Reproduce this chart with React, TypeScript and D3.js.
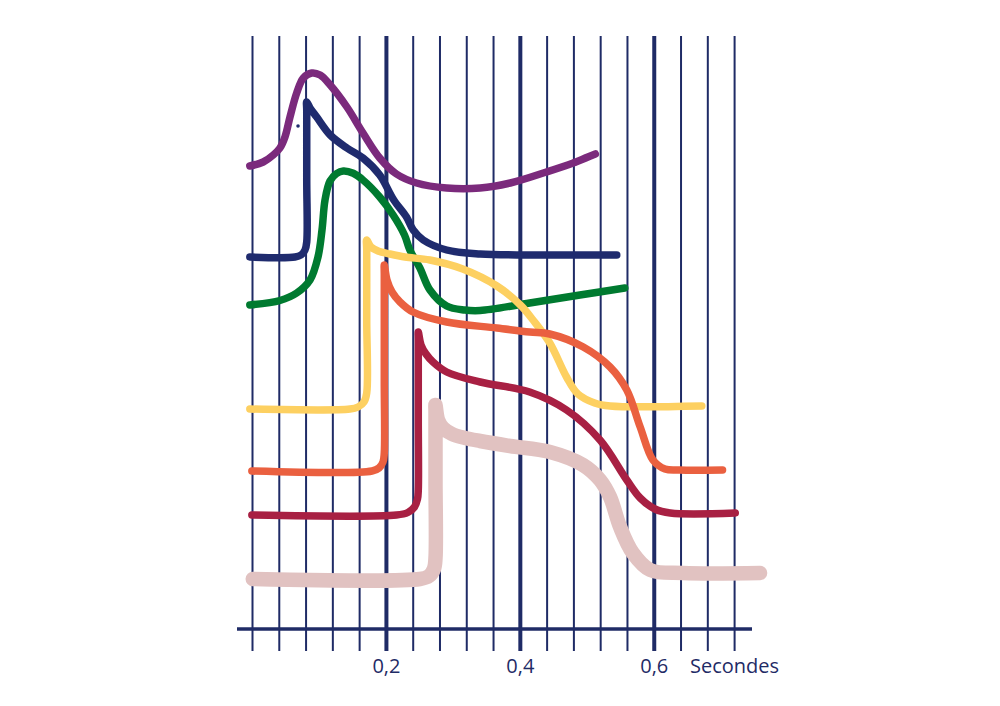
import React from "react";
import * as d3 from "d3";

type P = [number, number];

// time in seconds, potential in arbitrary units
const purple: P[] = [
  [-0.004, 463], [0.016, 467], [0.031, 474], [0.041, 481], [0.0485, 492], [0.056, 512],
  [0.066, 536], [0.0759, 551], [0.0884, 556], [0.101, 554], [0.116, 544], [0.141, 522],
  [0.165, 496], [0.19, 471], [0.215, 455], [0.245, 446], [0.29, 441], [0.34, 441],
  [0.385, 446], [0.439, 457], [0.479, 466], [0.512, 475],
];
const navy: P[] = [
  [-0.004, 372], [0.0635, 372], [0.0724, 374], [0.0784, 379], [0.081, 387], [0.081, 449],
  [0.081, 519], [0.081, 527], [0.0859, 521], [0.0959, 512], [0.116, 494], [0.141, 481],
  [0.165, 471], [0.19, 454], [0.211, 429], [0.23, 412], [0.24, 399], [0.255, 389],
  [0.29, 379], [0.34, 375], [0.414, 374], [0.544, 374],
];
const green: P[] = [
  [-0.004, 324], [0.041, 328.5], [0.066, 336], [0.0859, 349], [0.0978, 372], [0.1038, 399],
  [0.1083, 429], [0.1157, 448], [0.1257, 455.5], [0.1356, 458], [0.1505, 455.7], [0.165, 449],
  [0.19, 432], [0.21, 414], [0.227, 394], [0.235, 379], [0.25, 361], [0.265, 339],
  [0.29, 323], [0.317, 319], [0.34, 318.5], [0.414, 326], [0.489, 334], [0.556, 341],
];
const yellow: P[] = [
  [-0.004, 220], [0.1456, 220], [0.1576, 222], [0.1665, 227], [0.1706, 236], [0.1706, 309],
  [0.1706, 380], [0.1706, 389], [0.177, 382], [0.1875, 378], [0.2054, 375], [0.2277, 372],
  [0.265, 369], [0.314, 360], [0.365, 343], [0.4, 324], [0.419, 309], [0.444, 286],
  [0.469, 252], [0.486, 235], [0.511, 226], [0.534, 223], [0.671, 223],
];
const orange: P[] = [
  [-0.001, 158], [0.1785, 158], [0.1889, 161], [0.1949, 167], [0.1968, 176], [0.1968, 249],
  [0.1968, 355], [0.1968, 364], [0.2009, 349], [0.2084, 337], [0.2203, 327], [0.2397, 317],
  [0.29, 307], [0.365, 301], [0.414, 297], [0.444, 295], [0.494, 282], [0.534, 262],
  [0.559, 239], [0.579, 202], [0.598, 169], [0.616, 160], [0.638, 159], [0.702, 159],
];
const crimson: P[] = [
  [-0.001, 114], [0.215, 114], [0.232, 116.5], [0.2419, 122], [0.2464, 130], [0.2476, 139],
  [0.2476, 209], [0.2476, 289], [0.2476, 297], [0.2517, 284], [0.2591, 275], [0.2696, 267],
  [0.29, 257], [0.34, 247], [0.414, 237], [0.469, 219], [0.519, 189], [0.559, 149],
  [0.579, 131], [0.601, 120], [0.624, 116], [0.721, 116],
];
const pink: P[] = [
  [0.0004, 50], [0.2501, 50], [0.2636, 53], [0.271, 60], [0.2733, 71], [0.2733, 149],
  [0.2733, 217], [0.2733, 224], [0.2771, 209], [0.2845, 201], [0.2979, 195], [0.3174, 191],
  [0.3398, 188], [0.3846, 183], [0.4443, 177], [0.4936, 164], [0.519, 149], [0.534, 132],
  [0.549, 102], [0.568, 76], [0.594, 59], [0.643, 56], [0.758, 56],
];
const strayDot: P[] = [[0.068, 503]];

const gridTicks = d3.range(0, 19).map((i) => +(i * 0.04).toFixed(2));
const majorTicks = [0.2, 0.4, 0.6];
const tickLabels = ["0,2", "0,4", "0,6"];
const unitLabel = "Secondes";

const seriesList = [
  { data: purple, color: "#7b2a7c", width: 7.5 },
  { data: navy, color: "#1f2b6e", width: 7.5 },
  { data: green, color: "#007a30", width: 7.5 },
  { data: yellow, color: "#fdd061", width: 7.5 },
  { data: orange, color: "#ea6040", width: 7.5 },
  { data: crimson, color: "#a82043", width: 7.5 },
  { data: pink, color: "#e1c2c1", width: 14.5 },
];

export default function App() {
  const x = d3.scaleLinear().domain([0, 0.72]).range([252.5, 734.6]);
  const y = d3.scaleLinear().domain([0, 593]).range([629, 36]);
  const line = d3
    .line<P>()
    .x((d) => x(d[0]))
    .y((d) => y(d[1]))
    .curve(d3.curveCatmullRom.alpha(0.5));
  const gridColor = "#1f2b66";
  const font = "'Open Sans', 'Noto Sans', sans-serif";

  return (
    <svg
      width={1000}
      height={706}
      style={{ position: "absolute", left: 0, top: 0, background: "#fff" }}
    >
      {gridTicks.map((t) => {
        const major = majorTicks.some((m) => Math.abs(m - t) < 1e-6);
        return (
          <line
            key={t}
            x1={x(t)}
            x2={x(t)}
            y1={36}
            y2={651}
            stroke={gridColor}
            strokeWidth={major ? 4 : 2}
          />
        );
      })}
      <line x1={237} x2={752} y1={629} y2={629} stroke={gridColor} strokeWidth={3.5} />
      {majorTicks.map((t, i) => (
        <text
          key={t}
          x={x(t)}
          y={673}
          textAnchor="middle"
          fontFamily={font}
          fontSize={20}
          fill={gridColor}
        >
          {tickLabels[i]}
        </text>
      ))}
      <text x={690} y={673} fontFamily={font} fontSize={20} fill={gridColor}>
        {unitLabel}
      </text>
      {seriesList.map((s, i) => (
        <path
          key={i}
          d={line(s.data) || ""}
          fill="none"
          stroke={s.color}
          strokeWidth={s.width}
          strokeLinecap="round"
          strokeLinejoin="round"
        />
      ))}
      {strayDot.map((d, i) => (
        <circle key={i} cx={x(d[0])} cy={y(d[1])} r={1.8} fill="#1f2b6e" />
      ))}
    </svg>
  );
}
